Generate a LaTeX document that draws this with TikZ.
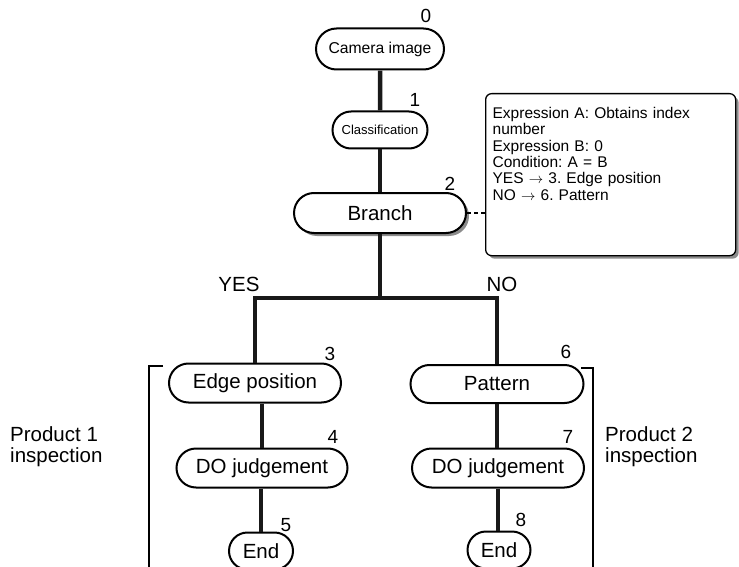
\documentclass[tikz,border=0pt]{standalone}
\usepackage{fontspec}
\setmainfont{Liberation Sans}
\usetikzlibrary{shapes.misc,shadows,positioning}
\frenchspacing

\begin{document}
\begin{tikzpicture}[
  x=1pt,y=-1pt,
  every node/.style={font=\fontsize{20.5}{22}\selectfont},
  term/.style={rounded rectangle, draw=black, line width=2pt, fill=white, inner sep=0pt, minimum height=39pt},
  shade/.style={drop shadow={shadow xshift=3pt, shadow yshift=-3pt, fill=black!45, opacity=1}},
  num/.style={inner sep=0pt, font=\fontsize{19}{20}\selectfont},
  note/.style={draw=black, line width=1.3pt, rounded corners=6pt, fill=white, align=left, anchor=north west, inner xsep=7pt, inner ysep=0pt, text width=236pt, text height=25pt, text depth=137pt, font=\fontsize{15.5}{16.3}\selectfont},
  side/.style={anchor=west, inner sep=0pt, align=left, font=\fontsize{20.5}{21}\selectfont},
  link/.style={line width=4.5pt, draw=black!90},
  bracket/.style={line width=1.2pt}
]
\useasboundingbox (0,0) rectangle (739,567);

% flow nodes
\node[term, minimum width=128pt, minimum height=41pt, font=\fontsize{15.7}{17}\selectfont] (cam) at (380,49) {Camera image};
\node[term, minimum width=95pt, minimum height=37pt, font=\fontsize{13}{14}\selectfont] (cls) at (380,130) {Classification};
\node[term, shade, minimum width=172pt, minimum height=40pt] (branch) at (380,213) {Branch};
\node[note, shade] (cond) at (485,93) {Expression A: Obtains index\\number\\Expression B: 0\\Condition: A = B\\YES $\rightarrow$ 3. Edge position\\NO $\rightarrow$ 6. Pattern};

\node[term, minimum width=172pt] (edge) at (255,383) {Edge position};
\node[term, minimum width=173pt, minimum height=38pt] (pat) at (497,384) {Pattern};
\node[term, minimum width=171pt] (do1) at (262,468) {DO judgement};
\node[term, minimum width=172pt] (do2) at (498,468) {DO judgement};
\node[term, minimum width=64pt, minimum height=37pt] (end1) at (261,551) {End};
\node[term, minimum width=63pt, minimum height=37pt] (end2) at (499,550) {End};

% step numbers
\node[num] (n0) at (426,16) {0};
\node[num] (n1) at (415,100) {1};
\node[num] (n2) at (450,184) {2};
\node[num] (n3) at (330,354) {3};
\node[num] (n4) at (333,437) {4};
\node[num] (n5) at (286,525) {5};
\node[num] (n6) at (566,352) {6};
\node[num] (n7) at (568,437) {7};
\node[num] (n8) at (521,520) {8};

\node (yes) at (239,284) {YES};
\node (no) at (502,284) {NO};

\node[side] (prod1) at (10,447) {Product 1\\inspection};
\node[side] (prod2) at (605,447) {Product 2\\inspection};

% connectors
\coordinate (fork) at (380,298);
\draw[link] (cam) -- (cls);
\draw[link] (cls) -- (branch);
\draw[link] (branch) -- (fork);
\draw[link] (edge.north) |- (fork) -| (pat.north);
\draw[link] (edge.south -| do1.north) -- (do1.north);
\draw[link] (do1.south -| end1.north) -- (end1.north);
\draw[link] (pat.south) -- (pat.south |- do2.north);
\draw[link] (do2.south) -- (do2.south |- end2.north);
\draw[line width=1.5pt, dash pattern=on 4pt off 3pt] (branch.east) -- (branch.east -| cond.west);

% brackets
\draw[bracket] (163,366) -- (149,366) -- (149,580);
\draw[bracket] (581,368) -- (593,368) -- (593,580);
\end{tikzpicture}
\end{document}
